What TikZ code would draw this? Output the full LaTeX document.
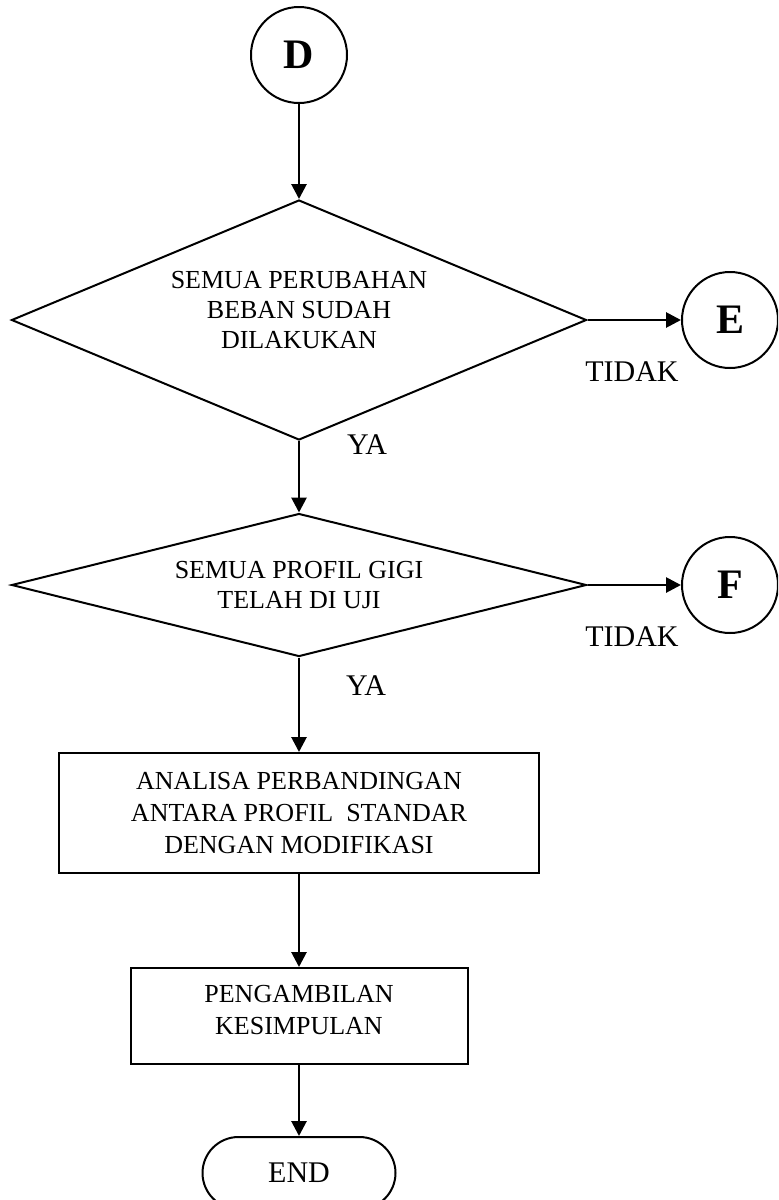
\documentclass[tikz,border=0pt]{standalone}
\usepackage{fontspec}
\setmainfont{Liberation Serif}
\usetikzlibrary{shapes.geometric,arrows.meta}

\begin{document}
\begin{tikzpicture}[x=0.5pt,y=-0.5pt,
	konektor/.style={circle, draw, line width=1pt, minimum size=48pt, inner sep=0pt, font=\fontsize{21}{24}\selectfont\bfseries},
	keputusan/.style={diamond, draw, line width=1pt, minimum width=287.5pt, inner sep=0pt, align=center, font=\fontsize{13}{15}\selectfont},
	proses/.style={rectangle, draw, line width=1pt, align=center, font=\fontsize{13}{16}\selectfont},
	ujung/.style={rectangle, rounded corners=18pt, draw, line width=1pt, minimum width=96.5pt, minimum height=36pt, font=\fontsize{15}{18}\selectfont},
	ket/.style={inner sep=0pt, font=\fontsize{15}{18}\selectfont},
	panah/.style={-{Triangle[length=7.5pt,width=7.5pt]}, line width=1.4pt}]
	\clip (0,0) rectangle (778,1200);

	\node[konektor] (D) at (299,55) {D};
	\node[keputusan, shape aspect=2.4, minimum height=120pt, text depth=10pt] (cek1) at (299,320) {SEMUA PERUBAHAN\\BEBAN SUDAH\\DILAKUKAN};
	\node[konektor] (E) at (730,320) {E};
	\node[keputusan, shape aspect=4, minimum height=71.5pt] (cek2) at (299,585) {SEMUA PROFIL GIGI\\TELAH DI UJI};
	\node[konektor] (F) at (730,585) {F};
	\node[proses, minimum width=240pt, minimum height=60pt] (analisa) at (299,813) {ANALISA PERBANDINGAN\\ANTARA PROFIL\ \ STANDAR\\DENGAN MODIFIKASI};
	\node[proses, minimum width=168.5pt, minimum height=48pt, text depth=6pt] (simpul) at (299,1016) {PENGAMBILAN\\KESIMPULAN};
	\node[ujung] (selesai) at (299,1173) {END};

	% label cabang
	\node[ket] (tidak1) at (632,372) {TIDAK};
	\node[ket] (ya1) at (367,445) {YA};
	\node[ket] (tidak2) at (632,637) {TIDAK};
	\node[ket] (ya2) at (366,686) {YA};

	\draw[panah] (D) -- (cek1);
	\draw[panah] (cek1) -- (E);
	\draw[panah] (cek1) -- (cek2);
	\draw[panah] (cek2) -- (F);
	\draw[panah] (cek2) -- (analisa);
	\draw[panah] (analisa) -- (simpul);
	\draw[panah] (simpul) -- (selesai);
\end{tikzpicture}
\end{document}
